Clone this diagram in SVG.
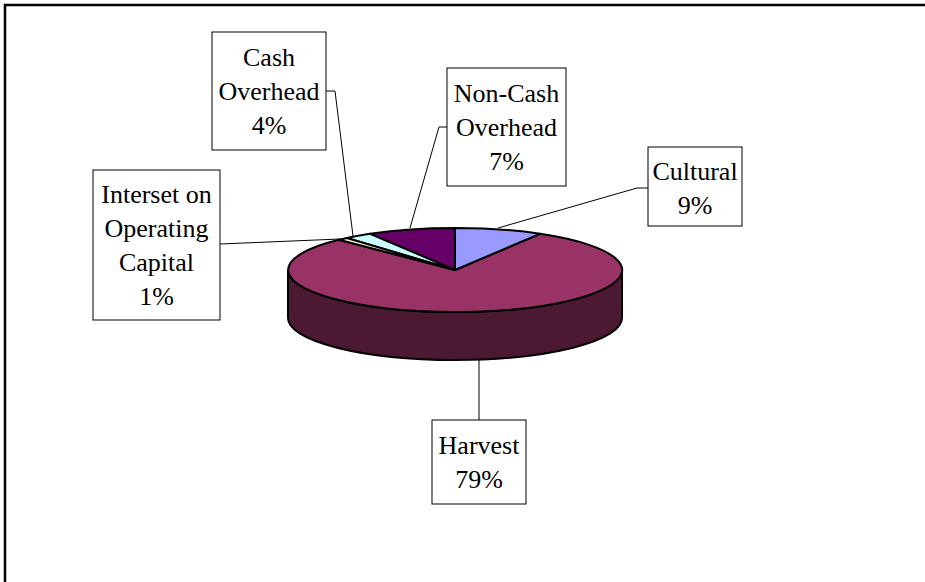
<svg xmlns="http://www.w3.org/2000/svg" width="925" height="582" viewBox="0 0 925 582">
<style>
.box{fill:#fff;stroke:#000;stroke-width:1}
.lbl{font-family:"Liberation Serif","Times New Roman",serif;font-size:26px;fill:#000;text-anchor:middle}
.pie{stroke:#000;stroke-width:2;stroke-linejoin:round}
.lead{fill:none;stroke:#000;stroke-width:1}
</style>
<rect x="0" y="0" width="925" height="582" fill="#fff"/>
<rect x="5" y="5" width="930" height="590" fill="none" stroke="#000" stroke-width="2.5"/>
<g id="pie">
<path class="pie" fill="#4C1933" d="M288,270 L288,318 A167,42 0 0 0 622,318 L622,270 A167,42 0 0 1 288,270 Z"/>
<path class="pie" fill="#993366" d="M455,270 L540,233.8 A167,42 0 1 1 339,239.8 Z"/>
<path class="pie" fill="#9999FF" d="M455,270 L455,228 A167,42 0 0 1 540,233.8 Z"/>
<path class="pie" fill="#660066" d="M455,270 L370,233.8 A167,42 0 0 1 455,228 Z"/>
<path class="pie" fill="#CCFFFF" d="M455,270 L346.8,238 A167,42 0 0 1 370,233.8 Z"/>
<path class="pie" fill="#FFFFCC" d="M455,270 L339,239.8 A167,42 0 0 1 346.8,238 Z"/>
</g>
<g id="connectors">
<polyline class="lead" points="326,91 335,91 353,236"/>
<polyline class="lead" points="447,127 439,127 410,228"/>
<polyline class="lead" points="220,244 340,239"/>
<polyline class="lead" points="648,188 637,188 498,228"/>
<polyline class="lead" points="479,360 479,420"/>
</g>
<g id="cash-overhead">
<rect class="box" x="212" y="32" width="114" height="118"/>
<text class="lbl" x="269" y="66">Cash</text>
<text class="lbl" x="269" y="100">Overhead</text>
<text class="lbl" x="269" y="134">4%</text>
</g>
<g id="non-cash-overhead">
<rect class="box" x="447" y="68" width="119" height="118"/>
<text class="lbl" x="506.5" y="102">Non-Cash</text>
<text class="lbl" x="506.5" y="136">Overhead</text>
<text class="lbl" x="506.5" y="170">7%</text>
</g>
<g id="cultural">
<rect class="box" x="648" y="147" width="94" height="79"/>
<text class="lbl" x="695" y="180">Cultural</text>
<text class="lbl" x="695" y="214">9%</text>
</g>
<g id="interest">
<rect class="box" x="93" y="170" width="127" height="150"/>
<text class="lbl" x="156.5" y="203">Interset on</text>
<text class="lbl" x="156.5" y="237">Operating</text>
<text class="lbl" x="156.5" y="271">Capital</text>
<text class="lbl" x="156.5" y="305">1%</text>
</g>
<g id="harvest">
<rect class="box" x="432" y="420" width="94" height="84"/>
<text class="lbl" x="479" y="454">Harvest</text>
<text class="lbl" x="479" y="488">79%</text>
</g>
</svg>
